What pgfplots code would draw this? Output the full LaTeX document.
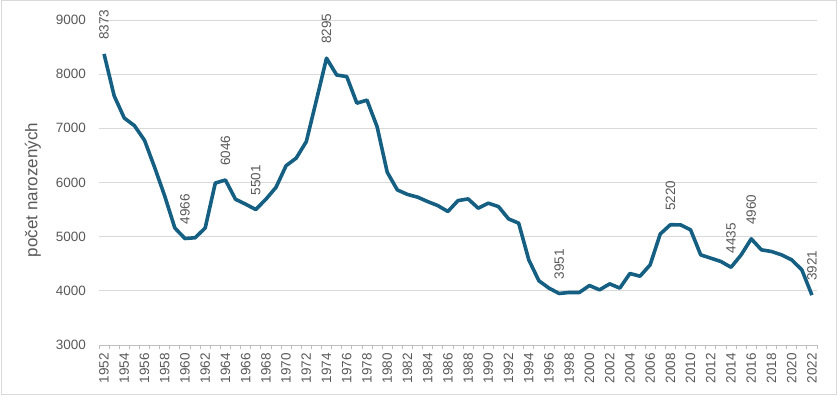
\documentclass[border=0pt]{standalone}
\usepackage{fontspec}
\setmainfont{Liberation Sans}
\usepackage{pgfplots}
\pgfplotsset{compat=1.18}
\definecolor{linec}{HTML}{156082}
\definecolor{txt}{HTML}{595959}
\definecolor{gridc}{HTML}{D9D9D9}
\definecolor{axc}{HTML}{BFBFBF}
\begin{document}
\begin{tikzpicture}
\useasboundingbox (0,0) rectangle (838bp,397bp);
\draw[gridc, line width=1bp] (1bp,2bp) rectangle (836bp,396bp);
\begin{axis}[
  at={(99bp,52bp)}, anchor=south west,
  scale only axis, width=718bp, height=325bp,
  xmin=1951.5, xmax=2022.5, ymin=3000, ymax=9000,
  /pgf/number format/.cd, 1000 sep={}, assume math mode=true, /pgfplots/.cd,
  xtick={1952,1954,...,2022},
  minor xtick={1951.5,1952.5,...,2022.5},
  ytick={3000,4000,...,9000},
  major tick length=0pt, minor tick length=4bp,
  tick align=outside,
  minor tick style={axc, line width=0.8bp},
  ymajorgrids, major grid style={gridc, line width=1bp},
  axis x line*=bottom, axis y line*=left,
  x axis line style={axc, line width=1bp, -},
  y axis line style={draw=none},
  every tick label/.append style={font=\fontsize{13.5bp}{15bp}\selectfont, text=txt},
  xticklabel style={rotate=90, anchor=east, inner sep=0pt},
  xticklabel shift=8bp,
  yticklabel style={anchor=east, inner sep=0pt},
  yticklabel shift=13bp,
  ylabel={počet narozených},
  ylabel style={at={(axis description cs:-0.092,0.477)}, anchor=center, font=\fontsize{17bp}{19bp}\selectfont, text=txt},
  clip=false,
]
\addplot[linec, line width=3.6bp, line join=round, mark=none] coordinates {
(1952,8373) (1953,7600) (1954,7190) (1955,7050) (1956,6780) (1957,6280)
(1958,5750) (1959,5160) (1960,4966) (1961,4980) (1962,5160) (1963,5990)
(1964,6046) (1965,5690) (1966,5600) (1967,5501) (1968,5690) (1969,5910)
(1970,6310) (1971,6450) (1972,6755) (1973,7520) (1974,8295) (1975,7985)
(1976,7955) (1977,7465) (1978,7520) (1979,7030) (1980,6190) (1981,5863)
(1982,5780) (1983,5730) (1984,5648) (1985,5574) (1986,5465) (1987,5666)
(1988,5697) (1989,5526) (1990,5618) (1991,5556) (1992,5328) (1993,5249)
(1994,4572) (1995,4185) (1996,4050) (1997,3951) (1998,3970) (1999,3970)
(2000,4098) (2001,4018) (2002,4129) (2003,4050) (2004,4320) (2005,4270)
(2006,4480) (2007,5050) (2008,5220) (2009,5218) (2010,5126) (2011,4664)
(2012,4603) (2013,4541) (2014,4435) (2015,4664) (2016,4960) (2017,4757)
(2018,4726) (2019,4664) (2020,4572) (2021,4388) (2022,3921)
};
\addplot[draw=none, mark=none, point meta=explicit symbolic, nodes near coords,
  nodes near coords style={rotate=90, anchor=west, inner xsep=14bp, inner ysep=0pt,
  font=\fontsize{13.5bp}{15bp}\selectfont, text=txt}] coordinates {
(1952,8373) [8373] (1960,4966) [4966] (1964,6046) [6046] (1967,5501) [5501]
(1974,8295) [8295] (1997,3951) [3951] (2008,5220) [5220] (2014,4435) [4435]
(2016,4960) [4960] (2022,3921) [3921]
};
\end{axis}
\end{tikzpicture}
\end{document}
